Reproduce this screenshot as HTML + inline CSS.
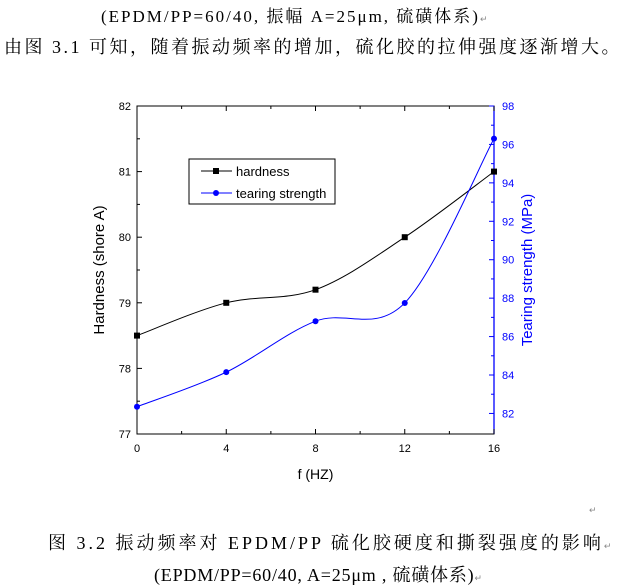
<!DOCTYPE html>
<html><head><meta charset="utf-8"><style>
body{margin:0;width:621px;height:585px;background:#fff;position:relative;overflow:hidden;font-family:"Liberation Serif","Noto Serif CJK SC",serif;}
.t{position:absolute;white-space:nowrap;color:#000;}
</style></head><body>
<div class="t" style="left:101px;top:2px;font-size:17px;letter-spacing:2px;">(EPDM/PP=60/40, 振幅 A=25μm, 硫磺体系)<span style="font-size:9px;color:#888;letter-spacing:0">↵</span></div>
<div class="t" style="left:4px;top:33px;font-size:18px;letter-spacing:2.5px;">由图 3.1 可知，随着振动频率的增加，硫化胶的拉伸强度逐渐增大。</div>
<svg id="chart" width="621" height="585" style="position:absolute;left:0;top:0" font-family="Liberation Sans, sans-serif"></svg>
<div class="t" style="left:48px;top:529px;font-size:18px;letter-spacing:3px;">图 3.2 振动频率对 EPDM/PP 硫化胶硬度和撕裂强度的影响<span style="font-size:9px;color:#888;letter-spacing:0">↵</span></div>
<div class="t" style="left:154px;top:561px;font-size:18px;letter-spacing:0.8px;">(EPDM/PP=60/40, A=25μm , 硫磺体系)<span style="font-size:9px;color:#888;letter-spacing:0">↵</span></div>
<div class="t" style="left:589px;top:505px;font-size:9px;color:#888">↵</div>
<script>
const freqs=[0,4,8,12,16];
const hardness=[78.5,79.0,79.2,80.0,81.0];
const tearing=[82.35,84.15,86.8,87.75,96.3];
const xTicks=[0,4,8,12,16];
const leftTicks=[77,78,79,80,81,82];
const rightTicks=[82,84,86,88,90,92,94,96,98];
const X0=137,X1=494,Y0=106,Y1=434;
const sx=v=>X0+(v-0)/(16-0)*(X1-X0);
const syL=v=>Y1-(v-77)/(82-77)*(Y1-Y0);
const syR=v=>Y1-(v-80.93)/(98-80.93)*(Y1-Y0);
const svg=document.getElementById('chart');
const NS='http://www.w3.org/2000/svg';
function mk(tag,at,par){const e=document.createElementNS(NS,tag);for(const k in at)e.setAttribute(k,at[k]);(par||svg).appendChild(e);return e;}
let e;
e=mk('rect',{x:X0,y:Y0,width:X1-X0,height:Y1-Y0,fill:'none',stroke:'#000','stroke-width':1});


e=mk('line',{x1:X1,y1:Y0,x2:X1,y2:Y1,stroke:'#00f','stroke-width':1.3});


for(let v=0;v<=16;v+=2){const x=sx(v);const maj=v%4===0;
 mk('line',{x1:x,y1:Y1,x2:x,y2:Y1-(maj?5:3),stroke:'#000'});
 mk('line',{x1:x,y1:Y0,x2:x,y2:Y0+(maj?5:3),stroke:'#000'});}
xTicks.forEach(v=>{e=mk('text',{x:sx(v),y:Y1+18,'text-anchor':'middle','font-size':11});e.textContent=v;

});
for(let v=77;v<=82;v+=0.5){const y=syL(v);const maj=Math.abs(v-Math.round(v))<1e-6;mk('line',{x1:X0,y1:y,x2:X0+(maj?5:3),y2:y,stroke:'#000'});}
leftTicks.forEach(v=>{e=mk('text',{x:X0-6,y:syL(v)+4,'text-anchor':'end','font-size':11});e.textContent=v;

});
for(let v=82;v<=98;v+=1){const y=syR(v);const maj=v%2===0;mk('line',{x1:X1,y1:y,x2:X1-(maj?5:3),y2:y,stroke:'#00f'});}
rightTicks.forEach(v=>{e=mk('text',{x:X1+8,y:syR(v)+4,'font-size':11,fill:'#00f'});e.textContent=v;

});
e=mk('text',{x:(X0+X1)/2,y:Y1+45,'text-anchor':'middle','font-size':14});e.textContent='f (HZ)';


e=mk('text',{x:0,y:0,'text-anchor':'middle','font-size':15,transform:`translate(104,${(Y0+Y1)/2}) rotate(-90)`});e.textContent='Hardness (shore A)';


e=mk('text',{x:0,y:0,'text-anchor':'middle','font-size':15,fill:'#00f',transform:`translate(532,${(Y0+Y1)/2}) rotate(-90)`});e.textContent='Tearing strength (MPa)';


function spline(pts){let d=`M${pts[0][0]},${pts[0][1]}`;
 for(let i=0;i<pts.length-1;i++){const p0=pts[Math.max(0,i-1)],p1=pts[i],p2=pts[i+1],p3=pts[Math.min(pts.length-1,i+2)];
 const c1=[p1[0]+(p2[0]-p0[0])/6,p1[1]+(p2[1]-p0[1])/6],c2=[p2[0]-(p3[0]-p1[0])/6,p2[1]-(p3[1]-p1[1])/6];
 d+=` C${c1[0]},${c1[1]} ${c2[0]},${c2[1]} ${p2[0]},${p2[1]}`;}return d;}
const hp=freqs.map((f,i)=>[sx(f),syL(hardness[i])]);
const tp=freqs.map((f,i)=>[sx(f),syR(tearing[i])]);
e=mk('path',{d:spline(hp),fill:'none',stroke:'#000','stroke-width':1});


e=mk('path',{d:spline(tp),fill:'none',stroke:'#00f','stroke-width':1});


hp.forEach(p=>{e=mk('rect',{x:p[0]-3,y:p[1]-3,width:6,height:6,fill:'#000'});

});
tp.forEach(p=>{e=mk('circle',{cx:p[0],cy:p[1],r:3,fill:'#00f'});

});
const lg=mk('g',{});


mk('rect',{x:189,y:159,width:146,height:45,fill:'#fff',stroke:'#000'},lg);
mk('line',{x1:201,y1:171,x2:232,y2:171,stroke:'#000'},lg);
mk('rect',{x:213,y:168,width:6,height:6,fill:'#000'},lg);
e=mk('text',{x:236,y:176,'font-size':13},lg);e.textContent='hardness';


mk('line',{x1:201,y1:193,x2:232,y2:193,stroke:'#00f'},lg);
mk('circle',{cx:216,cy:193,r:3,fill:'#00f'},lg);
e=mk('text',{x:236,y:198,'font-size':13},lg);e.textContent='tearing strength';


</script>
</body></html>
